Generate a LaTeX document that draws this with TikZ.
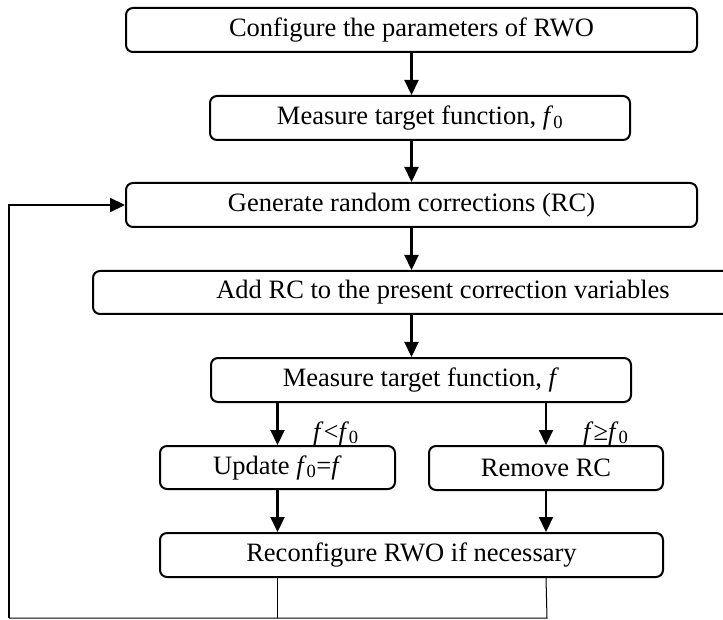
\documentclass[tikz,border=0pt]{standalone}
\usepackage{fontspec}
\setmainfont{Liberation Serif}
\usepackage{tikz}
\usetikzlibrary{arrows.meta}
\newcommand{\fit}{\textit{f}}
\newcommand{\fnull}{\textit{f}\textsubscript{0}}

\begin{document}
\begin{tikzpicture}[x=1pt, y=-1pt,
    stepbox/.style={draw, line width=2pt, rounded corners=7pt, inner sep=0pt, minimum height=44pt},
    flowarrow/.style={line width=2.2pt, -{Triangle[length=15pt, width=14pt]}},
    loopline/.style={line width=1pt},
    font=\fontsize{26.5}{31}\selectfont]
        \useasboundingbox (0,0) rectangle (723,620);
        \clip (0,0) rectangle (723,620);
        % boxes
        \node[stepbox, minimum width=571pt] (cfg) at (411.5,30) {Configure the parameters of RWO};
        \node[stepbox, minimum width=420pt] (meas0) at (420,118) {Measure target function, \fnull};
        \node[stepbox, minimum width=571pt] (gen) at (411.5,205) {Generate random corrections (RC)};
        \node[stepbox, minimum width=700pt, minimum height=43pt] (add) at (443,292.5) {Add RC to the present correction variables};
        \node[stepbox, minimum width=420pt] (meas) at (421,380) {Measure target function, \fit};
        \node[stepbox, minimum width=235pt, minimum height=43pt] (upd) at (277.5,467.5) {Update \fnull=\fit};
        \node[stepbox, minimum width=234pt] (rem) at (546,468) {Remove RC};
        \node[stepbox, minimum width=503pt] (reconf) at (411.5,555) {Reconfigure RWO if necessary};
        % branch labels
        \node[anchor=base west, inner sep=0pt] (lt) at (313,440) {\fit<\fnull};
        \node[anchor=base west, inner sep=0pt] (ge) at (583,440) {\fit≥\fnull};
        % loop corners
        \coordinate (loopR) at (547,618);
        \coordinate (loopL) at (9,618);
        % main flow
        \draw[flowarrow] (cfg.south) -- (meas0.north -| cfg.south);
        \draw[flowarrow] (meas0.south -| gen.north) -- (gen.north);
        \draw[flowarrow] (gen.south) -- (add.north -| gen.south);
        \draw[flowarrow] (add.south -| gen.south) -- (meas.north -| gen.south);
        \draw[flowarrow] (meas.south -| upd.north) -- (upd.north);
        \draw[flowarrow] (meas.south -| rem.north) -- (rem.north);
        \draw[flowarrow] (upd.south) -- (reconf.north -| upd.south);
        \draw[flowarrow] (rem.south) -- (reconf.north -| rem.south);
        % feedback
        \draw[loopline] (reconf.south -| upd.south) -- (loopR -| upd.south);
        \draw[loopline] (reconf.south -| rem.south) -- (loopR) -- (loopL);
        \draw[flowarrow] (loopL) -- (loopL |- gen.west) -- (gen.west);
\end{tikzpicture}
\end{document}
